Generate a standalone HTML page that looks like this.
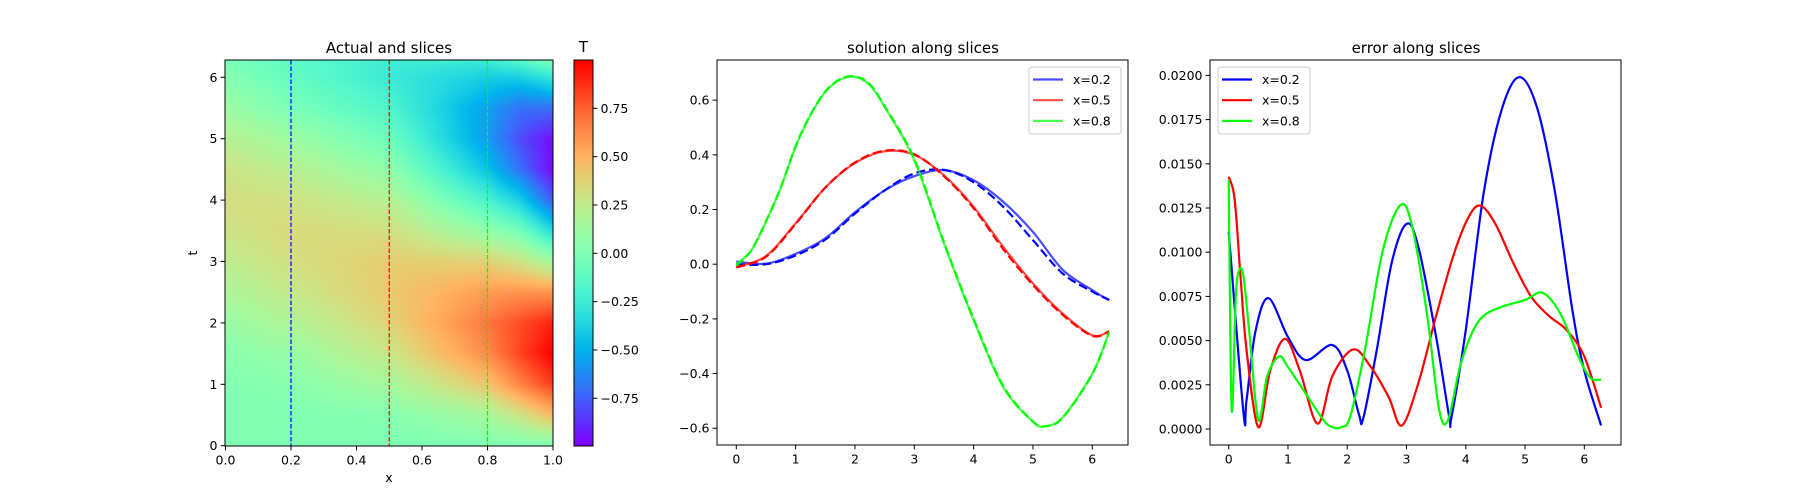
<!DOCTYPE html>
<html><head><meta charset="utf-8"><style>
html,body{margin:0;padding:0;background:#fff;}
#wrap{position:relative;width:1800px;height:500px;overflow:hidden;font-family:"DejaVu Sans","Liberation Sans",sans-serif;}
canvas{position:absolute;}
svg{position:absolute;left:0;top:0;}
text{font-family:"DejaVu Sans","Liberation Sans",sans-serif;fill:#000;}
</style></head><body>
<div id="wrap">
<canvas id="heat" width="328" height="386" style="left:225px;top:60px"></canvas>
<canvas id="cbar" width="19" height="386" style="left:574px;top:60px"></canvas>
<svg id="svg" width="1800" height="500"></svg>
</div>
<script>
// ---- heatmap grid data ----
const gridX = [0, 0.2, 0.5, 0.8, 0.9, 1.0];
const gridT = [0,0.5,1,1.5,2,2.5,3,3.5,4,4.5,5,5.5,6,6.283];
const colX00 = [0,0,0.01,0.04,0.1,0.17,0.24,0.3,0.33,0.3,0.22,0.12,0.03,-0.02];
const colX02 = [0.01,0.002,0.038,0.095,0.19,0.27,0.322,0.344,0.307,0.228,0.118,-0.02,-0.095,-0.132];
const colX05 = [-0.01,0.03,0.15,0.28,0.37,0.413,0.40,0.325,0.21,0.063,-0.07,-0.18,-0.26,-0.245];
const colX08 = [0,0.155,0.43,0.63,0.685,0.575,0.38,0.076,-0.205,-0.45,-0.577,-0.56,-0.4,-0.248];
const colX09 = [0,0.3,0.65,0.82,0.8,0.6,0.3,-0.05,-0.4,-0.7,-0.8,-0.7,-0.4,-0.15];
const colX10 = [0,0.479,0.841,0.997,0.909,0.598,0.141,-0.351,-0.757,-0.978,-0.959,-0.706,-0.279,0.0];
// ---- solution slices ----
const tSol = [0,0.5,1,1.5,2,2.5,3,3.5,4,4.5,5,5.5,6,6.283];
const predBlue = [0.01,0.002,0.038,0.095,0.19,0.27,0.322,0.344,0.307,0.228,0.118,-0.02,-0.095,-0.132];
const trueBlue = [0.0,0.0,0.032,0.09,0.185,0.27,0.332,0.345,0.3,0.21,0.088,-0.034,-0.1,-0.13];
const predRed = [-0.01,0.03,0.15,0.28,0.37,0.413,0.40,0.325,0.21,0.063,-0.07,-0.18,-0.26,-0.245];
const trueRed = [-0.012,0.027,0.147,0.28,0.372,0.415,0.402,0.322,0.205,0.055,-0.076,-0.185,-0.262,-0.246];
const tGreen = [0,0.25,0.5,0.75,1,1.25,1.5,1.75,2,2.25,2.5,3,3.5,4,4.5,5,5.2,5.5,6,6.283];
const predGreen = [0,0.05,0.155,0.28,0.43,0.545,0.63,0.675,0.685,0.655,0.575,0.38,0.076,-0.205,-0.45,-0.577,-0.592,-0.56,-0.4,-0.248];
const trueGreen = [-0.005,0.05,0.157,0.282,0.432,0.547,0.632,0.677,0.687,0.658,0.578,0.385,0.08,-0.2,-0.446,-0.575,-0.593,-0.562,-0.402,-0.25];
// ---- error slices ----
const tErrBlue = [0,0.25,0.3,0.45,0.67,1.0,1.3,1.75,2.0,2.2,2.27,2.5,2.75,3.0,3.2,3.5,3.72,3.76,4.0,4.3,4.6,4.9,5.2,5.5,5.8,6.0,6.283];
const errBlue = [0.01116,0.0009,0.0016,0.0055,0.0074,0.0052,0.0039,0.00475,0.0033,0.0008,0.0006,0.0045,0.0094,0.0116,0.0103,0.0052,0.0007,0.0007,0.0056,0.0133,0.018,0.0199,0.0182,0.0135,0.0067,0.0033,0.0002];
const tErrRed = [0,0.1,0.2,0.3,0.5,0.7,0.95,1.2,1.5,1.75,2.1,2.4,2.7,2.92,3.2,3.5,3.8,4.05,4.25,4.5,4.8,5.1,5.4,5.7,6.0,6.283];
const errRed = [0.01427,0.013,0.0086,0.0045,0.0001,0.0033,0.0051,0.0033,0.0003,0.003,0.0045,0.0035,0.0018,0.0002,0.0026,0.0064,0.0099,0.012,0.01263,0.0116,0.0094,0.0075,0.0064,0.0056,0.0041,0.0012];
const tErrGreen = [0,0.05,0.12,0.18,0.25,0.35,0.5,0.65,0.85,1.0,1.3,1.6,1.75,1.9,2.05,2.3,2.6,2.9,3.1,3.35,3.55,3.7,3.9,4.1,4.3,4.6,5.0,5.3,5.6,5.9,6.1,6.283];
const errGreen = [0.0141,0.0011,0.0075,0.009,0.0086,0.0054,0.0005,0.003,0.0041,0.0035,0.002,0.0005,0.0001,0.0001,0.0007,0.0045,0.0101,0.01267,0.0114,0.0064,0.0011,0.0005,0.0035,0.0054,0.0064,0.0069,0.0073,0.0077,0.0065,0.0041,0.0029,0.0028];
const seriesNames = ["x=0.2","x=0.5","x=0.8"];
const tickX1 = [0,0.2,0.4,0.6,0.8,1.0];
const tickT1 = [0,1,2,3,4,5,6];
const tickCb = [-0.75,-0.5,-0.25,0,0.25,0.5,0.75];
const tickY2 = [-0.6,-0.4,-0.2,0,0.2,0.4,0.6];
const tickY3 = [0,0.0025,0.005,0.0075,0.01,0.0125,0.015,0.0175,0.02];
const tickXt = [0,1,2,3,4,5,6];

// axis functions
const p1x = x => 225.5 + 327.5*x, p1y = t => 445.7 - 61.4*t;
const cby = v => 253.3 - v*193.3;
const p2x = t => 736.3 + 59.33*t, p2y = v => 264.2 - v*273.4;
const p3x = t => 1228.7 + 59.27*t, p3y = e => 429 - e/0.0025*44.2;

function rainbow(v){
  let x = (v + 0.99)/1.98; x = Math.max(0, Math.min(1, x));
  const r = Math.min(1, Math.abs(2*x - 0.5)), g = Math.sin(Math.PI*x), b = Math.cos(Math.PI*x/2);
  return [r*255, g*255, b*255];
}
const cols = [colX00,colX02,colX05,colX08,colX09,colX10];
function interp(arr, xs, x){
  let i = 0; while (i < xs.length-2 && x > xs[i+1]) i++;
  const f = (x - xs[i])/(xs[i+1]-xs[i]); return arr[i]*(1-f) + arr[i+1]*f;
}
function field(x, t){
  const vals = cols.map(c => interp(c, gridT, t));
  return interp(vals, gridX, x);
}
(function(){
  const c = document.getElementById('heat'), ctx = c.getContext('2d');
  const img = ctx.createImageData(328, 386);
  for (let py = 0; py < 386; py++){
    const t = (445.7 - (60 + py + 0.5))/61.4;
    for (let px = 0; px < 328; px++){
      const x = ((225 + px + 0.5) - 225.5)/327.5;
      const col = rainbow(field(Math.max(0,Math.min(1,x)), Math.max(0,Math.min(6.283,t))));
      const k = (py*328 + px)*4;
      img.data[k]=col[0]; img.data[k+1]=col[1]; img.data[k+2]=col[2]; img.data[k+3]=255;
    }
  }
  ctx.putImageData(img, 0, 0);
  const cb = document.getElementById('cbar'), cc = cb.getContext('2d');
  for (let py = 0; py < 386; py++){
    const v = (253.3 - (60 + py + 0.5))/193.3;
    const col = rainbow(v);
    cc.fillStyle = `rgb(${col[0]|0},${col[1]|0},${col[2]|0})`; cc.fillRect(0, py, 19, 1);
  }
})();

const svg = document.getElementById('svg'), NS = 'http://www.w3.org/2000/svg';
function el(tag, attrs, parent){
  const e = document.createElementNS(NS, tag);
  for (const k in attrs) e.setAttribute(k, attrs[k]);
  (parent || svg).appendChild(e); return e;
}
function txt(x, y, s, anchor, size, parent){
  const e = el('text', {x: x, y: y, 'text-anchor': anchor, 'font-size': size}, parent);
  e.textContent = s; return e;
}
const fmt = (v, d) => (v < 0 ? '\u2212' : '') + Math.abs(v).toFixed(d);

function frame(l, t, r, b, name){
  const f = el('rect', {x: l, y: t, width: r-l, height: b-t, fill: 'none', stroke: '#000', 'stroke-width': 1});
  
  
}
function xTicks(vals, fx, bottom, d, name){
  const g = el('g', {});
  
  
  vals.forEach(v => {
    const x = fx(v);
    el('line', {x1: x, x2: x, y1: bottom, y2: bottom+4.4, stroke: '#000', 'stroke-width': 1}, g);
    txt(x, bottom + 18.5, fmt(v, d), 'middle', 12.5, g);
  });
}
function yTicks(vals, fy, left, d, name, right){
  const g = el('g', {});
  
  
  vals.forEach(v => {
    const y = fy(v);
    if (right){
      el('line', {x1: left, x2: left+4.4, y1: y, y2: y, stroke: '#000', 'stroke-width': 1}, g);
      txt(left + 7.5, y + 4.5, fmt(v, d), 'start', 12.5, g);
    } else {
      el('line', {x1: left-4.4, x2: left, y1: y, y2: y, stroke: '#000', 'stroke-width': 1}, g);
      txt(left - 7.5, y + 4.5, fmt(v, d), 'end', 12.5, g);
    }
  });
}
function smoothPath(ts, vs, fx, fy){
  const P = ts.map((t,i) => [fx(t), fy(vs[i])]);
  let d = `M${P[0][0]},${P[0][1]}`;
  for (let i = 0; i < P.length-1; i++){
    const p0 = P[Math.max(0,i-1)], p1 = P[i], p2 = P[i+1], p3 = P[Math.min(P.length-1,i+2)];
    const c1 = [p1[0]+(p2[0]-p0[0])/6, p1[1]+(p2[1]-p0[1])/6];
    const c2 = [p2[0]-(p3[0]-p1[0])/6, p2[1]-(p3[1]-p1[1])/6];
    d += ` C${c1[0]},${c1[1]} ${c2[0]},${c2[1]} ${p2[0]},${p2[1]}`;
  }
  return d;
}

// ---- Panel 1 ----
const blueC = '#0000ff', redC = '#ff0000', greenC = '#00ff00';
[[0.2, blueC, 'slice-line-x02'], [0.5, redC, 'slice-line-x05'], [0.8, greenC, 'slice-line-x08']].forEach(s => {
  const l = el('line', {x1: p1x(s[0]), x2: p1x(s[0]), y1: 60, y2: 446, stroke: s[1], 'stroke-width': 1.2, 'stroke-dasharray': '4.5,2'});
  
  
});
frame(225, 60, 553, 446, 'heatmap-frame');
xTicks(tickX1, p1x, 446, 1, 'heatmap-x-ticks');
yTicks(tickT1, p1y, 225, 0, 'heatmap-y-ticks');
let t1 = txt(389, 53, 'Actual and slices', 'middle', 15);  
let xl = txt(389, 482, 'x', 'middle', 12.5);  
let yl = txt(0, 0, 't', 'middle', 12.5); yl.setAttribute('transform', 'translate(197,253) rotate(-90)');
 
frame(574, 60, 593, 446, 'colorbar-frame');
yTicks(tickCb, cby, 593, 2, 'colorbar-ticks', true);
let ct = txt(583.5, 52, 'T', 'middle', 15);  

// ---- Panel 2 ----
const colors = [blueC, redC, greenC];
const solT = [tSol, tSol, tGreen];
const preds = [predBlue, predRed, predGreen], trues = [trueBlue, trueRed, trueGreen];
preds.forEach((p, i) => {
  const s = el('path', {d: smoothPath(solT[i], p, p2x, p2y), fill: 'none', stroke: colors[i], 'stroke-width': 2.2, 'stroke-opacity': 0.7});
  
  
  const d = el('path', {d: smoothPath(solT[i], trues[i], p2x, p2y), fill: 'none', stroke: colors[i], 'stroke-width': 2.2, 'stroke-dasharray': '9,4'});
  
  
});
frame(717, 60, 1128, 445, 'solution-frame');
xTicks(tickXt, p2x, 445, 0, 'solution-x-ticks');
yTicks(tickY2, p2y, 717, 1, 'solution-y-ticks');
let t2 = txt(923, 53, 'solution along slices', 'middle', 15);  

function legend(x, y, opacity, name){
  const g = el('g', {});
  
  
  el('rect', {x: x, y: y, width: 92, height: 67, rx: 3, fill: '#fff', 'fill-opacity': 0.8, stroke: '#ccc', 'stroke-width': 1}, g);
  seriesNames.forEach((n, i) => {
    const yy = y + 12.5 + i*20.7;
    const ln = el('line', {x1: x+4, x2: x+34, y1: yy, y2: yy, stroke: colors[i], 'stroke-width': 2.2, 'stroke-opacity': opacity}, g);
    
    
    const tx = txt(x + 44, yy + 4.5, n, 'start', 12.5, g);
    
    
  });
}
legend(1029, 67, 0.7, 'solution-legend');

// ---- Panel 3 ----
[[tErrBlue, errBlue], [tErrRed, errRed], [tErrGreen, errGreen]].forEach((s, i) => {
  const p = el('path', {d: smoothPath(s[0], s[1], p3x, p3y), fill: 'none', stroke: colors[i], 'stroke-width': 2.2, 'stroke-linejoin': 'round'});
  
  
});
frame(1210, 60, 1621, 445, 'error-frame');
xTicks(tickXt, p3x, 445, 0, 'error-x-ticks');
yTicks(tickY3, p3y, 1210, 4, 'error-y-ticks');
let t3 = txt(1416, 53, 'error along slices', 'middle', 15);  
legend(1218, 67, 1, 'error-legend');
</script>
</body></html>
